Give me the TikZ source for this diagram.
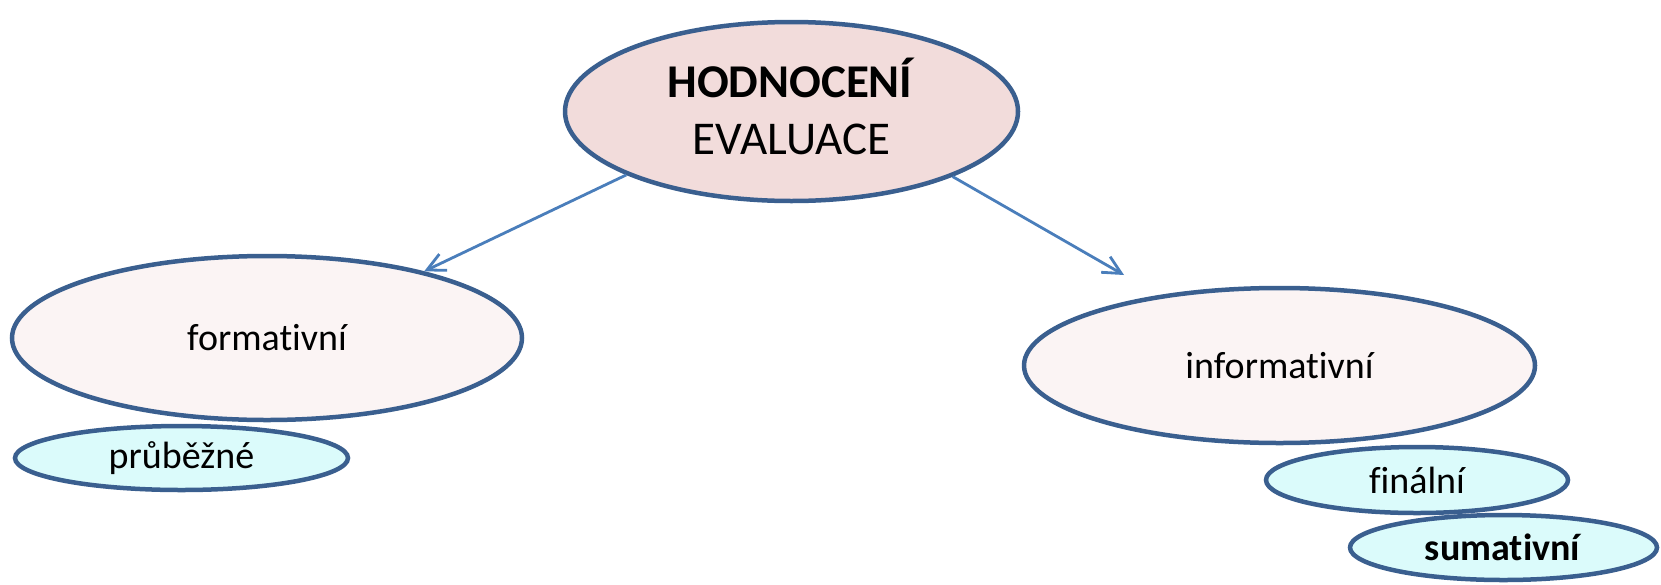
\documentclass[tikz,border=0pt]{standalone}
\usepackage{fontspec}
\setmainfont[Ligatures={NoCommon}]{Carlito}
\usetikzlibrary{shapes.geometric,arrows.meta}
\definecolor{edgeblue}{HTML}{3A5F8F}
\definecolor{arrowblue}{HTML}{4A7EBB}
\definecolor{toppink}{HTML}{F2DCDB}
\definecolor{lightpink}{HTML}{FBF4F4}
\definecolor{lightcyan}{HTML}{DBFBFB}
\tikzset{
  oval/.style={ellipse, draw=edgeblue, line width=4.5pt, inner sep=0pt, align=center},
  bigoval/.style={oval, fill=lightpink, font=\fontsize{38}{46}\selectfont},
  smalloval/.style={oval, fill=lightcyan, font=\fontsize{38}{46}\selectfont},
  conn/.style={draw=arrowblue, line width=2.8pt, -{Straight Barb[length=18pt,width=18pt]}}
}
\begin{document}
\begin{tikzpicture}[x=1pt,y=-1pt]
\useasboundingbox (0,0) rectangle (1661,584);
\node[oval, fill=toppink, minimum width=453pt, minimum height=179pt] (top) at (791.5,111.5) {};
\node[align=center, font=\fontsize{47}{57}\selectfont, yshift=5pt] (toptext) at (top.center) {\textbf{HODNOCENÍ}\\EVALUACE};
\node[bigoval, minimum width=510pt, minimum height=164pt] (form) at (267,338) {formativní};
\node[bigoval, minimum width=511pt, minimum height=155pt] (inf) at (1279.5,365.5) {informativní};
\node[smalloval, minimum width=333pt, minimum height=64pt] (prub) at (181.5,458) {průběžné};
\node[smalloval, minimum width=302pt, minimum height=66pt] (fin) at (1417,480) {finální};
\node[smalloval, minimum width=307pt, minimum height=65pt] (sum) at (1503.5,547.5) {\textbf{sumativní}};
\coordinate (infend) at (1124,275);
\draw[conn] (top.201.8) -- (form.23.7);
\draw[conn] (top.338.2) -- (infend);
\end{tikzpicture}
\end{document}
